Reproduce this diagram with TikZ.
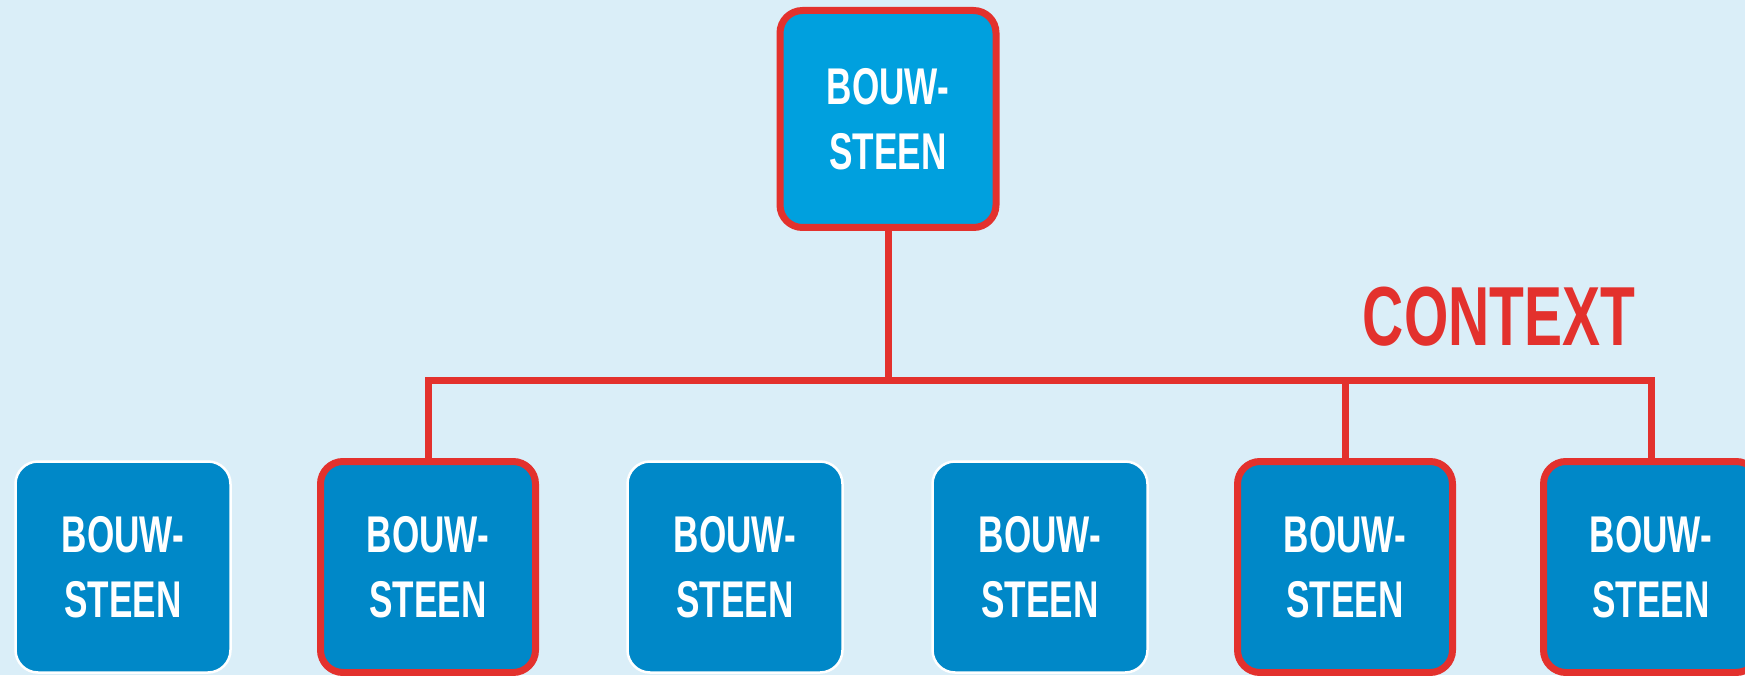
\documentclass[tikz,border=0pt]{standalone}
\usepackage{fontspec}
\newfontfamily\blockfont[FakeStretch=0.68]{Liberation Sans}

\definecolor{bgblue}{HTML}{DAEEF8}
\definecolor{topblue}{HTML}{00A0DE}
\definecolor{boxblue}{HTML}{0088C8}
\definecolor{ctxred}{HTML}{E3312D}

\tikzset{blocknode/.style={rectangle, rounded corners=0.45cm, fill=boxblue, draw=white, line width=0.05cm, minimum width=4.3cm, minimum height=4.22cm, text=white, align=center, font=\blockfont\bfseries\fontsize{29.4}{37}\selectfont}}
\tikzset{ctxnode/.style={blocknode, draw=ctxred, line width=0.14cm}}
\tikzset{ctxline/.style={draw=ctxred, line width=0.14cm}}

\begin{document}
\begin{tikzpicture}
		\fill[bgblue] (0,0) rectangle (34.9,13.5);
		\useasboundingbox (0,0) rectangle (34.9,13.5);

		%top block
		\node[ctxnode, fill=topblue, minimum width=4.32cm, minimum height=4.34cm] (top) at (17.76,11.12) {BOUW-\\STEEN};

		%bottom blocks
		\node[blocknode] (b1) at (2.46,2.16) {BOUW-\\STEEN};
		\node[ctxnode] (b2) at (8.56,2.16) {BOUW-\\STEEN};
		\node[blocknode] (b3) at (14.70,2.16) {BOUW-\\STEEN};
		\node[blocknode] (b4) at (20.80,2.16) {BOUW-\\STEEN};
		\node[ctxnode] (b5) at (26.90,2.16) {BOUW-\\STEEN};
		\node[ctxnode] (b6) at (33.02,2.16) {BOUW-\\STEEN};

		%context label
		\node[text=ctxred, font=\blockfont\bfseries\fontsize{47.7}{50}\selectfont] (ctx) at (29.98,7.16) {CONTEXT};

		%connectors
		\coordinate (bar) at (17.76,5.9);
		\draw[ctxline] (top.south) -- (bar);
		\draw[ctxline] (b2.north) |- (bar -| b6.north) -- (b6.north);
		\draw[ctxline] (b5.north) -- (b5.north |- bar);
\end{tikzpicture}
\end{document}
